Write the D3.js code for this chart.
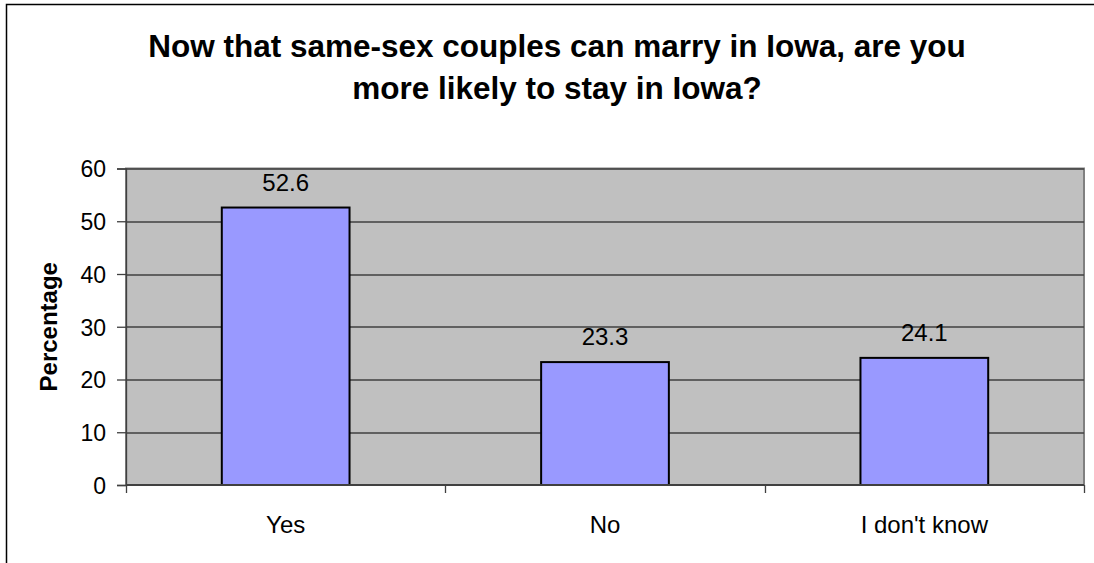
<!DOCTYPE html>
<html lang="en">
	<head>
		<meta charset="utf-8">
		<title>Iowa same-sex marriage survey</title>
		<script type="text/javascript" src="https://cdn.jsdelivr.net/npm/d3@7"></script>
		<style>
			body { margin: 0; background: #fff; }
			text { font-family: "Liberation Sans", Arial, sans-serif; fill: #000; }
			.title { font-size: 31.5px; font-weight: bold; }
			.ylabel { font-size: 24px; font-weight: bold; }
			.tick text { font-size: 23px; }
			.vlabel { font-size: 24px; }
		</style>
	</head>
	<body>
		<script type="text/javascript">

			// data
			var categories = ["Yes", "No", "I don't know"];
			var percentages = [52.6, 23.3, 24.1];
			var yTicks = [0, 10, 20, 30, 40, 50, 60];
			var titleLines = ["Now that same-sex couples can marry in Iowa, are you", "more likely to stay in Iowa?"];

			var W = 1094, H = 563;
			// plot area
			var margin = {top: 168.5, right: 10, bottom: 78, left: 126},
				w = 1084 - margin.left,
				h = 485 - margin.top;

			var svg = d3.select("body")
						.append("svg")
						.attr("width", W)
						.attr("height", H);

			// outer chart border
			svg.append("rect")
				.attr("x", 6.5)
				.attr("y", 4.5)
				.attr("width", W + 10)
				.attr("height", H + 10)
				.attr("fill", "#fff")
				.attr("stroke", "#000")
				.attr("stroke-width", 1.5);

			// title
			svg.append("text")
				.attr("class", "title")
				.attr("text-anchor", "middle")
				.selectAll("tspan")
				.data(titleLines)
				.enter().append("tspan")
					.attr("x", 557)
					.attr("y", function(d, i) { return 57 + i * 42; })
					.text(function(d) { return d; });

			var g = svg.append("g")
						.attr("transform", "translate(" + margin.left + "," + margin.top + ")");

			var xScale = d3.scaleBand()
							.domain(categories)
							.range([0, w])
							.paddingInner(0.6)
							.paddingOuter(0.3);

			var yScale = d3.scaleLinear()
							.domain([0, 60])
							.range([h, 0]);

			// plot background
			g.append("rect")
				.attr("width", w)
				.attr("height", h)
				.attr("fill", "#c0c0c0")
				.attr("stroke", "#808080")
				.attr("stroke-width", 2);

			// gridlines
			g.selectAll(".grid")
				.data(yTicks.filter(function(d) { return d > 0; }))
				.enter().append("line")
					.attr("x1", 0)
					.attr("x2", w)
					.attr("y1", function(d) { return Math.round(yScale(d)) + 0.5; })
					.attr("y2", function(d) { return Math.round(yScale(d)) + 0.5; })
					.attr("stroke", "#404040")
					.attr("stroke-width", 1.3);

			// bars
			g.selectAll(".bar")
				.data(percentages)
				.enter().append("rect")
					.attr("class", "bar")
					.attr("x", function(d, i) { return xScale(categories[i]); })
					.attr("y", function(d) { return yScale(d); })
					.attr("width", xScale.bandwidth())
					.attr("height", function(d) { return h - yScale(d); })
					.attr("fill", "#9999ff")
					.attr("stroke", "#000")
					.attr("stroke-width", 2);

			// value labels
			g.selectAll(".vlabel")
				.data(percentages)
				.enter().append("text")
					.attr("class", "vlabel")
					.attr("text-anchor", "middle")
					.attr("x", function(d, i) { return xScale(categories[i]) + xScale.bandwidth() / 2; })
					.attr("y", function(d) { return yScale(d) - 17; })
					.text(function(d) { return d.toFixed(1); });

			// y axis
			var yAxis = d3.axisLeft(yScale)
							.tickValues(yTicks)
							.tickSize(9)
							.tickPadding(11);
			var ya = g.append("g").call(yAxis);
			ya.select(".domain").attr("stroke", "#404040").attr("stroke-width", 1.3);
			ya.selectAll(".tick line").attr("stroke", "#404040").attr("stroke-width", 1.3);
			ya.selectAll(".tick text").attr("dy", "0.36em").attr("font-family", null).attr("font-size", null);

			// x axis: ticks at category boundaries
			var step = w / categories.length;
			var xa = g.append("g").attr("transform", "translate(0," + h + ")");
			xa.append("line")
				.attr("x1", 0).attr("x2", w)
				.attr("stroke", "#404040").attr("stroke-width", 2);
			xa.selectAll(".xt")
				.data(d3.range(categories.length + 1))
				.enter().append("line")
					.attr("x1", function(d) { return Math.round(d * step) + 0.5; })
					.attr("x2", function(d) { return Math.round(d * step) + 0.5; })
					.attr("y1", 0).attr("y2", 8)
					.attr("stroke", "#404040").attr("stroke-width", 1.3);
			xa.selectAll(".xl")
				.data(categories)
				.enter().append("text")
					.attr("class", "vlabel")
					.attr("text-anchor", "middle")
					.attr("x", function(d) { return xScale(d) + xScale.bandwidth() / 2; })
					.attr("y", 48)
					.text(function(d) { return d; });

			// y label
			svg.append("text")
				.attr("class", "ylabel")
				.attr("text-anchor", "middle")
				.attr("transform", "translate(57," + (margin.top + h / 2) + ") rotate(-90)")
				.text("Percentage");

		</script>
	</body>
</html>
